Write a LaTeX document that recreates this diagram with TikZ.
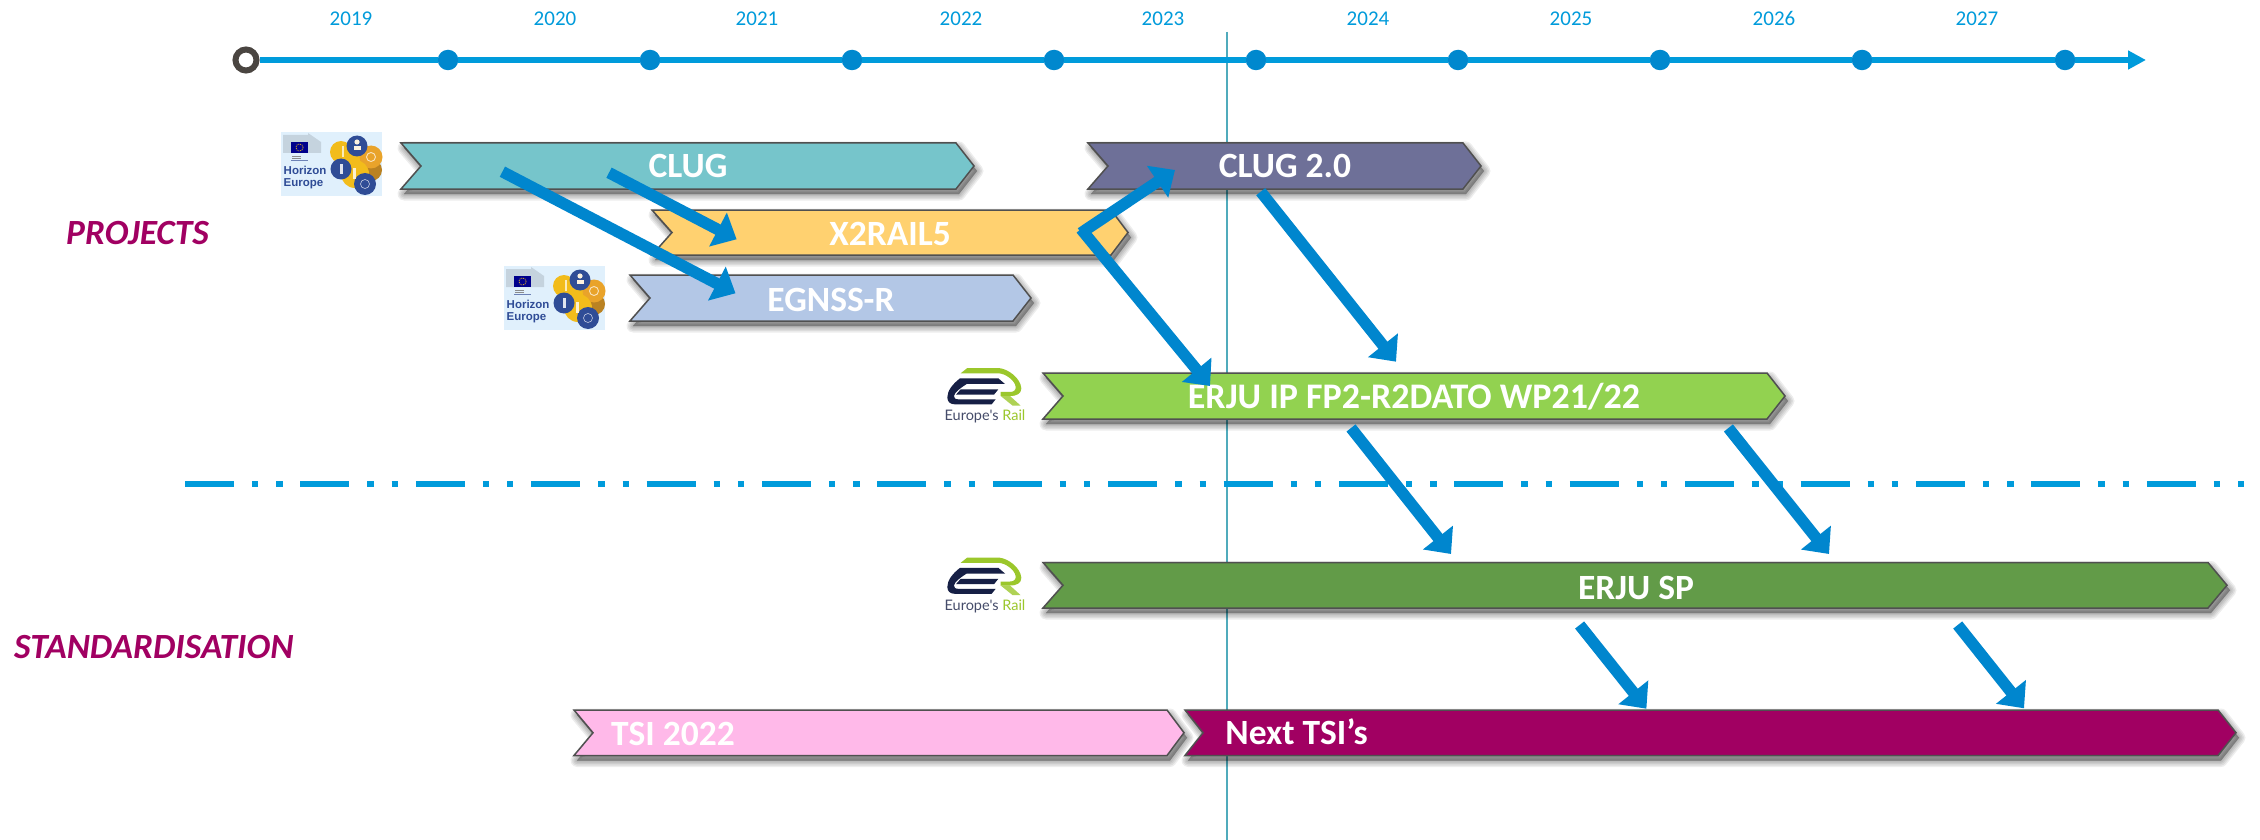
\documentclass[tikz,border=0pt]{standalone}
\usepackage{fontspec}
\setmainfont{Carlito}
\newfontfamily\hefont{Liberation Sans}
\newfontfamily\erfont{Lato}
\usetikzlibrary{arrows.meta,calc}
\definecolor{tlblue}{HTML}{009BDB}
\definecolor{dotblue}{HTML}{0088CE}
\definecolor{arrblue}{HTML}{0086CE}
\definecolor{vline}{HTML}{50ABBC}
\definecolor{edge}{HTML}{505050}
\definecolor{magen}{HTML}{A10062}
\definecolor{hebg}{HTML}{E0F0FC}
\definecolor{henavy}{HTML}{2F4C96}
\definecolor{heyel}{HTML}{F2BC1B}
\definecolor{heorg}{HTML}{E9A32A}
\definecolor{ernavy}{HTML}{161F45}
\definecolor{ergreen}{HTML}{9BC72B}
\definecolor{startring}{HTML}{4A4541}
\definecolor{cClug}{HTML}{76C5CB}
\definecolor{cXrail}{HTML}{FFD170}
\definecolor{cEgnss}{HTML}{B3C7E6}
\definecolor{cClugB}{HTML}{6E7098}
\definecolor{cIp}{HTML}{92D250}
\definecolor{cSp}{HTML}{629B48}
\definecolor{cTsi}{HTML}{FFB9E9}
\tikzset{
  yeartext/.style={text=tlblue,font=\fontsize{21}{21}\selectfont,anchor=base,inner sep=0pt},
  bartext/.style={text=white,font=\fontsize{35.5}{36}\selectfont\bfseries,anchor=base,inner sep=0pt},
  sidetext/.style={text=magen,font=\fontsize{35.4}{36}\selectfont\bfseries\itshape,anchor=base west,inner sep=0pt},
  tldot/.style={circle,fill=dotblue,minimum size=20.5pt,inner sep=0pt},
  tlstart/.style={circle,draw=startring,line width=6pt,fill=white,minimum size=21pt,inner sep=0pt},
  tlline/.style={draw=tlblue,line width=6.5pt},
  flow/.style={draw=arrblue,line width=11.5pt,-{Triangle[length=21pt,width=37pt]}},
}
\newcommand{\ribbon}[7]{%
  \foreach \w in {13,10,7,4,1}{
    \path[draw=black,fill=black,line width=\w pt,opacity=.07,line join=round,shift={(3,5)}]
      (#2,#6) -- (#4,#6) -- (#5,{(#6+#7)/2}) -- (#4,#7) -- (#2,#7) -- (#3,{(#6+#7)/2}) -- cycle;
  }
  \path[draw=edge,fill=#1,line width=1.5pt,line join=miter]
    (#2,#6) -- (#4,#6) -- (#5,{(#6+#7)/2}) -- (#4,#7) -- (#2,#7) -- (#3,{(#6+#7)/2}) -- cycle;
}
\newcommand{\horizonlogo}[3]{%
  \begin{scope}[shift={(#2,#3)}]
    \fill[hebg] (0,0) rectangle (101,64);
    \fill[black!12!hebg] (2,3) -- (27,3) -- (27,1) -- (40,10) -- (40,21) -- (2,21) -- cycle;
    \fill[blue!55!black] (10,10) rectangle (27,21);
    \draw[heyel,line width=.7pt,dash pattern=on 1pt off .9pt] (18.5,15.5) circle (3.6);
    \draw[black!45,line width=.8pt] (11,24) -- (20,24) (11,26) -- (20,26);
    \draw[henavy!70,line width=1pt] (10,28.5) -- (27,28.5);
    \node[anchor=base west,inner sep=0pt,text=henavy,font=\hefont\bfseries\fontsize{11.5}{11.5}\selectfont] (#1a) at (2.5,42.7) {Horizon};
    \node[anchor=base west,inner sep=0pt,text=henavy,font=\hefont\bfseries\fontsize{11.5}{11.5}\selectfont] (#1b) at (2.5,54.2) {Europe};
    \fill[heorg!80!black] (90,38) circle (11);
    \fill[heyel] (60,20) circle (11);
    \fill[heyel] (70,28) circle (14);
    \fill[heorg] (90,25) circle (11.5);
    \fill[henavy] (76,14) circle (10.5);
    \fill[heyel] (74,42) circle (14);
    \fill[henavy] (60,37) circle (10.5);
    \fill[henavy] (84,52) circle (11);
    \fill[white!85!heorg] (76,10) circle (2.6);
    \fill[white!85!heorg] (72.5,14) rectangle (79.5,18);
    \fill[white!70!heyel] (61,14) rectangle (63,25);
    \draw[white!70!heorg,line width=.9pt] (90,25) circle (4.5);
    \fill[white!85!henavy] (59,32) rectangle (61.5,42);
    \fill[white!80!heyel] (72,36) rectangle (75,47);
    \draw[white!70!henavy,line width=.6pt] (84,52) circle (4.5);
  \end{scope}
}
\newcommand{\erlogo}[3]{%
  \begin{scope}[shift={(#2,#3)},x=.3333pt,y=-.3333pt]
    \fill[ergreen!80!white] (212,108) -- (240,108) -- (272,137) -- (248,137) -- cycle;
    \fill[ergreen] (92,40) -- (112,24) -- (205,24) .. controls (235,26) and (272,55) .. (274,85) .. controls (274,100) and (262,108) .. (240,108) -- (212,108) -- (212,96) -- (240,96) .. controls (252,96) and (258,90) .. (257,80) .. controls (254,60) and (225,40) .. (205,40) -- cycle;
    \fill[ernavy] (90,55) -- (205,55) -- (225,72) -- (110,72) .. controls (90,85) and (73,98) .. (72,108) .. controls (72,114) and (75,118) .. (85,118) -- (197,118) -- (185,133) -- (75,133) .. controls (60,133) and (52,125) .. (52,112) .. controls (52,92) and (68,72) .. (90,55) -- cycle;
    \fill[ernavy] (92,88) -- (205,88) -- (192,104) -- (78,104) -- cycle;
    \node[inner sep=0pt,anchor=base,font=\erfont\fontsize{14.5}{15}\selectfont] (#1) at (165,182) {\textcolor{ernavy!80!white}{Europe's} \textcolor{ergreen}{Rail}};
  \end{scope}
}
\begin{document}
\begin{tikzpicture}[x=1pt,y=-1pt]
\useasboundingbox (0,0) rectangle (2260,840);
\fill[white] (0,0) rectangle (2260,840);

% vertical line and separator
\coordinate (todayTop) at (1227,32);
\coordinate (todayBot) at (1227,840);
\draw[vline,line width=1.6pt] (todayTop) -- (todayBot);
\coordinate (sepL) at (185,484);
\coordinate (sepR) at (2245,484);
\draw[tlblue,line width=5.5pt,dash pattern=on 49pt off 18pt on 6.3pt off 18pt on 6.3pt off 17.8pt] (sepL) -- (sepR);

% timeline
\node[tlstart] (t0) at (246,60) {};
\foreach \n/\x in {1/448,2/650,3/852,4/1054,5/1256,6/1458,7/1660,8/1862,9/2065}{
  \node[tldot] (t\n) at (\x,60) {};
}
\coordinate (tend) at (2146,60);
\foreach \a/\b in {t0/t1,t1/t2,t2/t3,t3/t4,t4/t5,t5/t6,t6/t7,t7/t8,t8/t9}{
  \draw[tlline] (\a) -- (\b);
}
\draw[tlline,-{Triangle[length=18pt,width=18pt]}] (t9) -- (tend);
\foreach \y/\x in {2019/351,2020/555,2021/757,2022/961,2023/1163,2024/1368,2025/1571,2026/1774,2027/1977}{
  \node[yeartext] (y\y) at (\x,26) {\y};
}

% side labels
\node[sidetext] (projects) at (66,244) {PROJECTS};
\node[sidetext] (stand) at (14,658) {STANDARDISATION};

% logos
\horizonlogo{heA}{281}{132}
\horizonlogo{heB}{504}{266}
\erlogo{erA}{930}{360}
\erlogo{erB}{930}{549.5}

% ribbons
\ribbon{cClug}{401}{421}{956}{974}{143}{189}
\ribbon{cXrail}{652}{672}{1111}{1128}{210}{255}
\ribbon{cEgnss}{630}{650}{1013}{1031}{275}{321}
\ribbon{cClugB}{1088}{1108}{1463}{1481}{143}{189}
\ribbon{cIp}{1043}{1063}{1767}{1785}{373}{419}
\ribbon{cSp}{1043}{1063}{2208}{2227}{562.5}{608}
\ribbon{cTsi}{574}{593}{1167}{1184}{710}{755.5}
\ribbon{magen}{1185}{1203}{2218}{2236}{710}{755.5}

\node[bartext] (clug) at (688,177) {CLUG};
\node[bartext] (xrail) at (890,245) {X2RAIL5};
\node[bartext] (egnss) at (831,311) {EGNSS-R};
\node[bartext] (clugb) at (1285,178) {CLUG 2.0};
\node[bartext,font=\fontsize{36}{36}\selectfont\bfseries] (ip) at (1414,408) {ERJU IP FP2-R2DATO WP21/22};
\node[bartext] (sp) at (1636,599) {ERJU SP};
\node[bartext] (tsi) at (673,745) {TSI 2022};
\node[bartext] (next) at (1296.5,744) {Next TSI’s};

% flow arrows
\coordinate (a1s) at (609,172.7);   \coordinate (a1e) at (736.6,239.3);
\coordinate (a2s) at (502.4,171.7); \coordinate (a2e) at (735.5,293.3);
\coordinate (a3s) at (1081,233);    \coordinate (a3e) at (1175,170);
\coordinate (a4s) at (1081,229);    \coordinate (a4e) at (1210,386);
\coordinate (a5s) at (1260.7,191.7);\coordinate (a5e) at (1396,361.7);
\coordinate (a6s) at (1351,428);    \coordinate (a6e) at (1451,554);
\coordinate (a7s) at (1728.4,428);  \coordinate (a7e) at (1829,554);
\coordinate (a8s) at (1579.6,625);  \coordinate (a8e) at (1646.4,708.7);
\coordinate (a9s) at (1957.7,625);  \coordinate (a9e) at (2024,708.3);
\foreach \i in {1,...,9}{
  \draw[flow] (a\i s) -- (a\i e);
}
\end{tikzpicture}
\end{document}
